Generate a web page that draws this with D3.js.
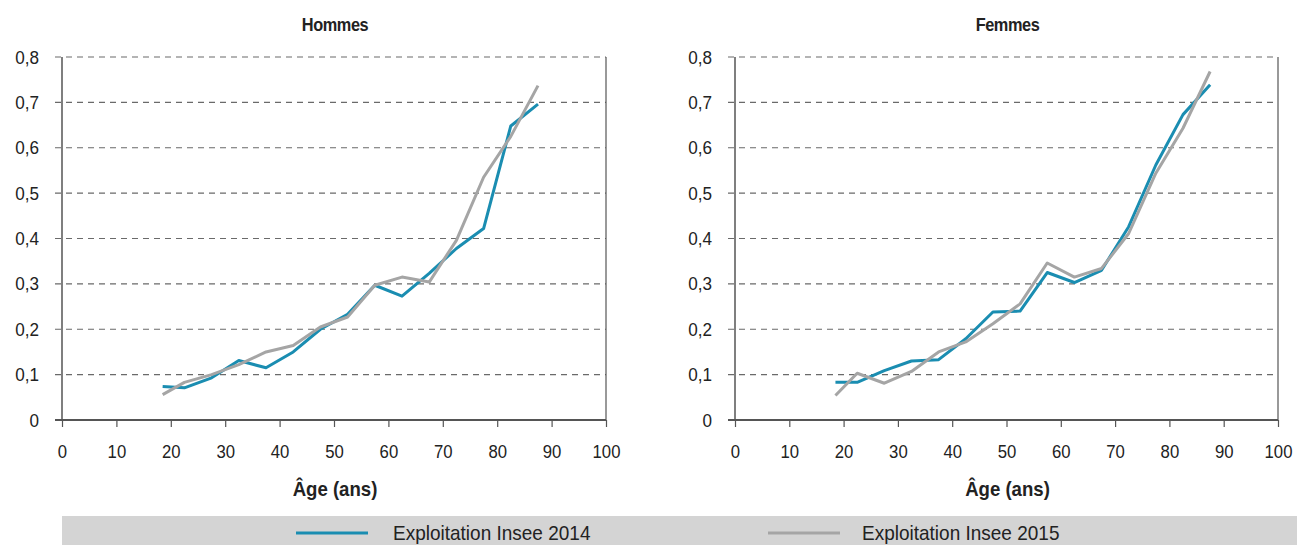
<!DOCTYPE html>
<html>
<head>
<meta charset="utf-8">
<script src="https://cdn.jsdelivr.net/npm/d3@7"></script>
<style>
  html, body { margin: 0; padding: 0; background: #fff; }
  svg { display: block; }
  text { font-family: "Liberation Sans", Arial, sans-serif; fill: #222; }
</style>
</head>
<body>
<svg id="chart" width="1297" height="545"></svg>
<script>
// Age group midpoints (years)
const ages = [18.5, 22.5, 27.5, 32.5, 37.5, 42.5, 47.5, 52.5, 57.5, 62.5, 67.5, 72.5, 77.5, 82.5, 87.5];

// Hommes
const hommes2014 = [0.074, 0.071, 0.093, 0.131, 0.115, 0.150, 0.200, 0.233, 0.297, 0.273, 0.323, 0.378, 0.422, 0.648, 0.696];
const hommes2015 = [0.056, 0.083, 0.100, 0.122, 0.150, 0.164, 0.205, 0.227, 0.297, 0.315, 0.304, 0.396, 0.535, 0.625, 0.737];

// Femmes
const femmes2014 = [0.083, 0.083, 0.109, 0.130, 0.133, 0.179, 0.238, 0.240, 0.325, 0.303, 0.330, 0.426, 0.562, 0.673, 0.739];
const femmes2015 = [0.054, 0.103, 0.081, 0.107, 0.150, 0.172, 0.212, 0.256, 0.346, 0.315, 0.334, 0.411, 0.544, 0.643, 0.768];

const xTicks = [0, 10, 20, 30, 40, 50, 60, 70, 80, 90, 100];
const yTicks = [0, 0.1, 0.2, 0.3, 0.4, 0.5, 0.6, 0.7, 0.8];

const seriesNames = ["Exploitation Insee 2014", "Exploitation Insee 2015"];
const seriesColors = ["#1a8db1", "#a5a5a5"];

const svg = d3.select("#chart");
const fr = d3.formatLocale({ decimal: ",", thousands: " ", grouping: [3], currency: ["", " €"] });
const fmtY = d => d === 0 ? "0" : fr.format(".1f")(d);

// Narrow the glyphs horizontally (condensed look) while keeping anchor positions.
function condense(sel, sx) {
  sel.each(function () {
    const t = d3.select(this);
    const x = +(t.attr("x") || 0);
    t.attr("x", x / sx).attr("transform", `scale(${sx},1)`);
  });
}

function panel(title, left, right, s2014, s2015) {
  const top = 57, bottom = 420;
  const x = d3.scaleLinear().domain([0, 100]).range([left, right]);
  const y = d3.scaleLinear().domain([0, 0.8]).range([bottom, top]);
  const g = svg.append("g");

  // dashed horizontal grid
  g.append("g").selectAll("line").data(yTicks.filter(d => d > 0)).join("line")
    .attr("x1", left - 7).attr("x2", right)
    .attr("y1", d => y(d)).attr("y2", d => y(d))
    .attr("stroke", "#6a6a6a").attr("stroke-width", 1.2)
    .attr("stroke-dasharray", "6,5");

  // y tick labels
  const ya = g.append("g").attr("transform", `translate(${left - 7},0)`)
    .call(d3.axisLeft(y).tickValues(yTicks).tickFormat(fmtY).tickSize(0).tickPadding(16));
  ya.select(".domain").remove();
  ya.selectAll("text").attr("font-size", 19).attr("fill", "#222")
    .attr("font-family", "'Liberation Sans', Arial, sans-serif");
  condense(ya.selectAll("text"), 0.9);

  // left and right frame lines
  g.append("line").attr("x1", left).attr("x2", left).attr("y1", top).attr("y2", bottom)
    .attr("stroke", "#555").attr("stroke-width", 1.5);
  g.append("line").attr("x1", right).attr("x2", right).attr("y1", top).attr("y2", bottom)
    .attr("stroke", "#555").attr("stroke-width", 1.2);

  // x axis
  const xa = g.append("g").attr("transform", `translate(0,${bottom})`)
    .call(d3.axisBottom(x).tickValues(xTicks).tickSize(7).tickSizeOuter(0).tickPadding(18));
  xa.select(".domain").attr("stroke", "#555").attr("stroke-width", 1.8)
    .attr("d", `M${left - 7},0H${right}`);
  xa.selectAll(".tick line").attr("stroke", "#555").attr("stroke-width", 1.2);
  xa.selectAll("text").attr("font-size", 19).attr("fill", "#222")
    .attr("font-family", "'Liberation Sans', Arial, sans-serif");
  condense(xa.selectAll("text"), 0.88);

  // lines
  const line = d3.line().x((d, i) => x(ages[i])).y(d => y(d));
  [s2014, s2015].forEach((s, k) => {
    g.append("path").datum(s).attr("d", line)
      .attr("fill", "none").attr("stroke", seriesColors[k])
      .attr("stroke-width", 3).attr("stroke-linejoin", "round");
  });

  // title
  const tt = g.append("text").attr("x", (left + right) / 2 + 1).attr("y", 31)
    .attr("text-anchor", "middle").attr("font-size", 19).attr("font-weight", "bold")
    .attr("letter-spacing", -0.5).text(title);
  condense(tt, 0.86);

  // axis title
  const at = g.append("text").attr("x", (left + right) / 2 + 1).attr("y", 496)
    .attr("text-anchor", "middle").attr("font-size", 20).attr("font-weight", "bold")
    .text("Âge (ans)");
  condense(at, 0.93);
}

panel("Hommes", 62, 606, hommes2014, hommes2015);
panel("Femmes", 735, 1278, femmes2014, femmes2015);

// legend band
const lg = svg.append("g");
lg.append("rect").attr("x", 62).attr("y", 516).attr("width", 1297 - 62).attr("height", 29).attr("fill", "#d4d4d4");
const legendPos = [{ x1: 296, x2: 368, tx: 393 }, { x1: 768, x2: 840, tx: 862 }];
seriesNames.forEach((name, k) => {
  const p = legendPos[k];
  lg.append("line").attr("x1", p.x1).attr("x2", p.x2).attr("y1", 533).attr("y2", 533)
    .attr("stroke", seriesColors[k]).attr("stroke-width", 3);
  const t = lg.append("text").attr("x", p.tx).attr("y", 540).attr("font-size", 20).text(name);
  condense(t, 0.95);
});
</script>
</body>
</html>
